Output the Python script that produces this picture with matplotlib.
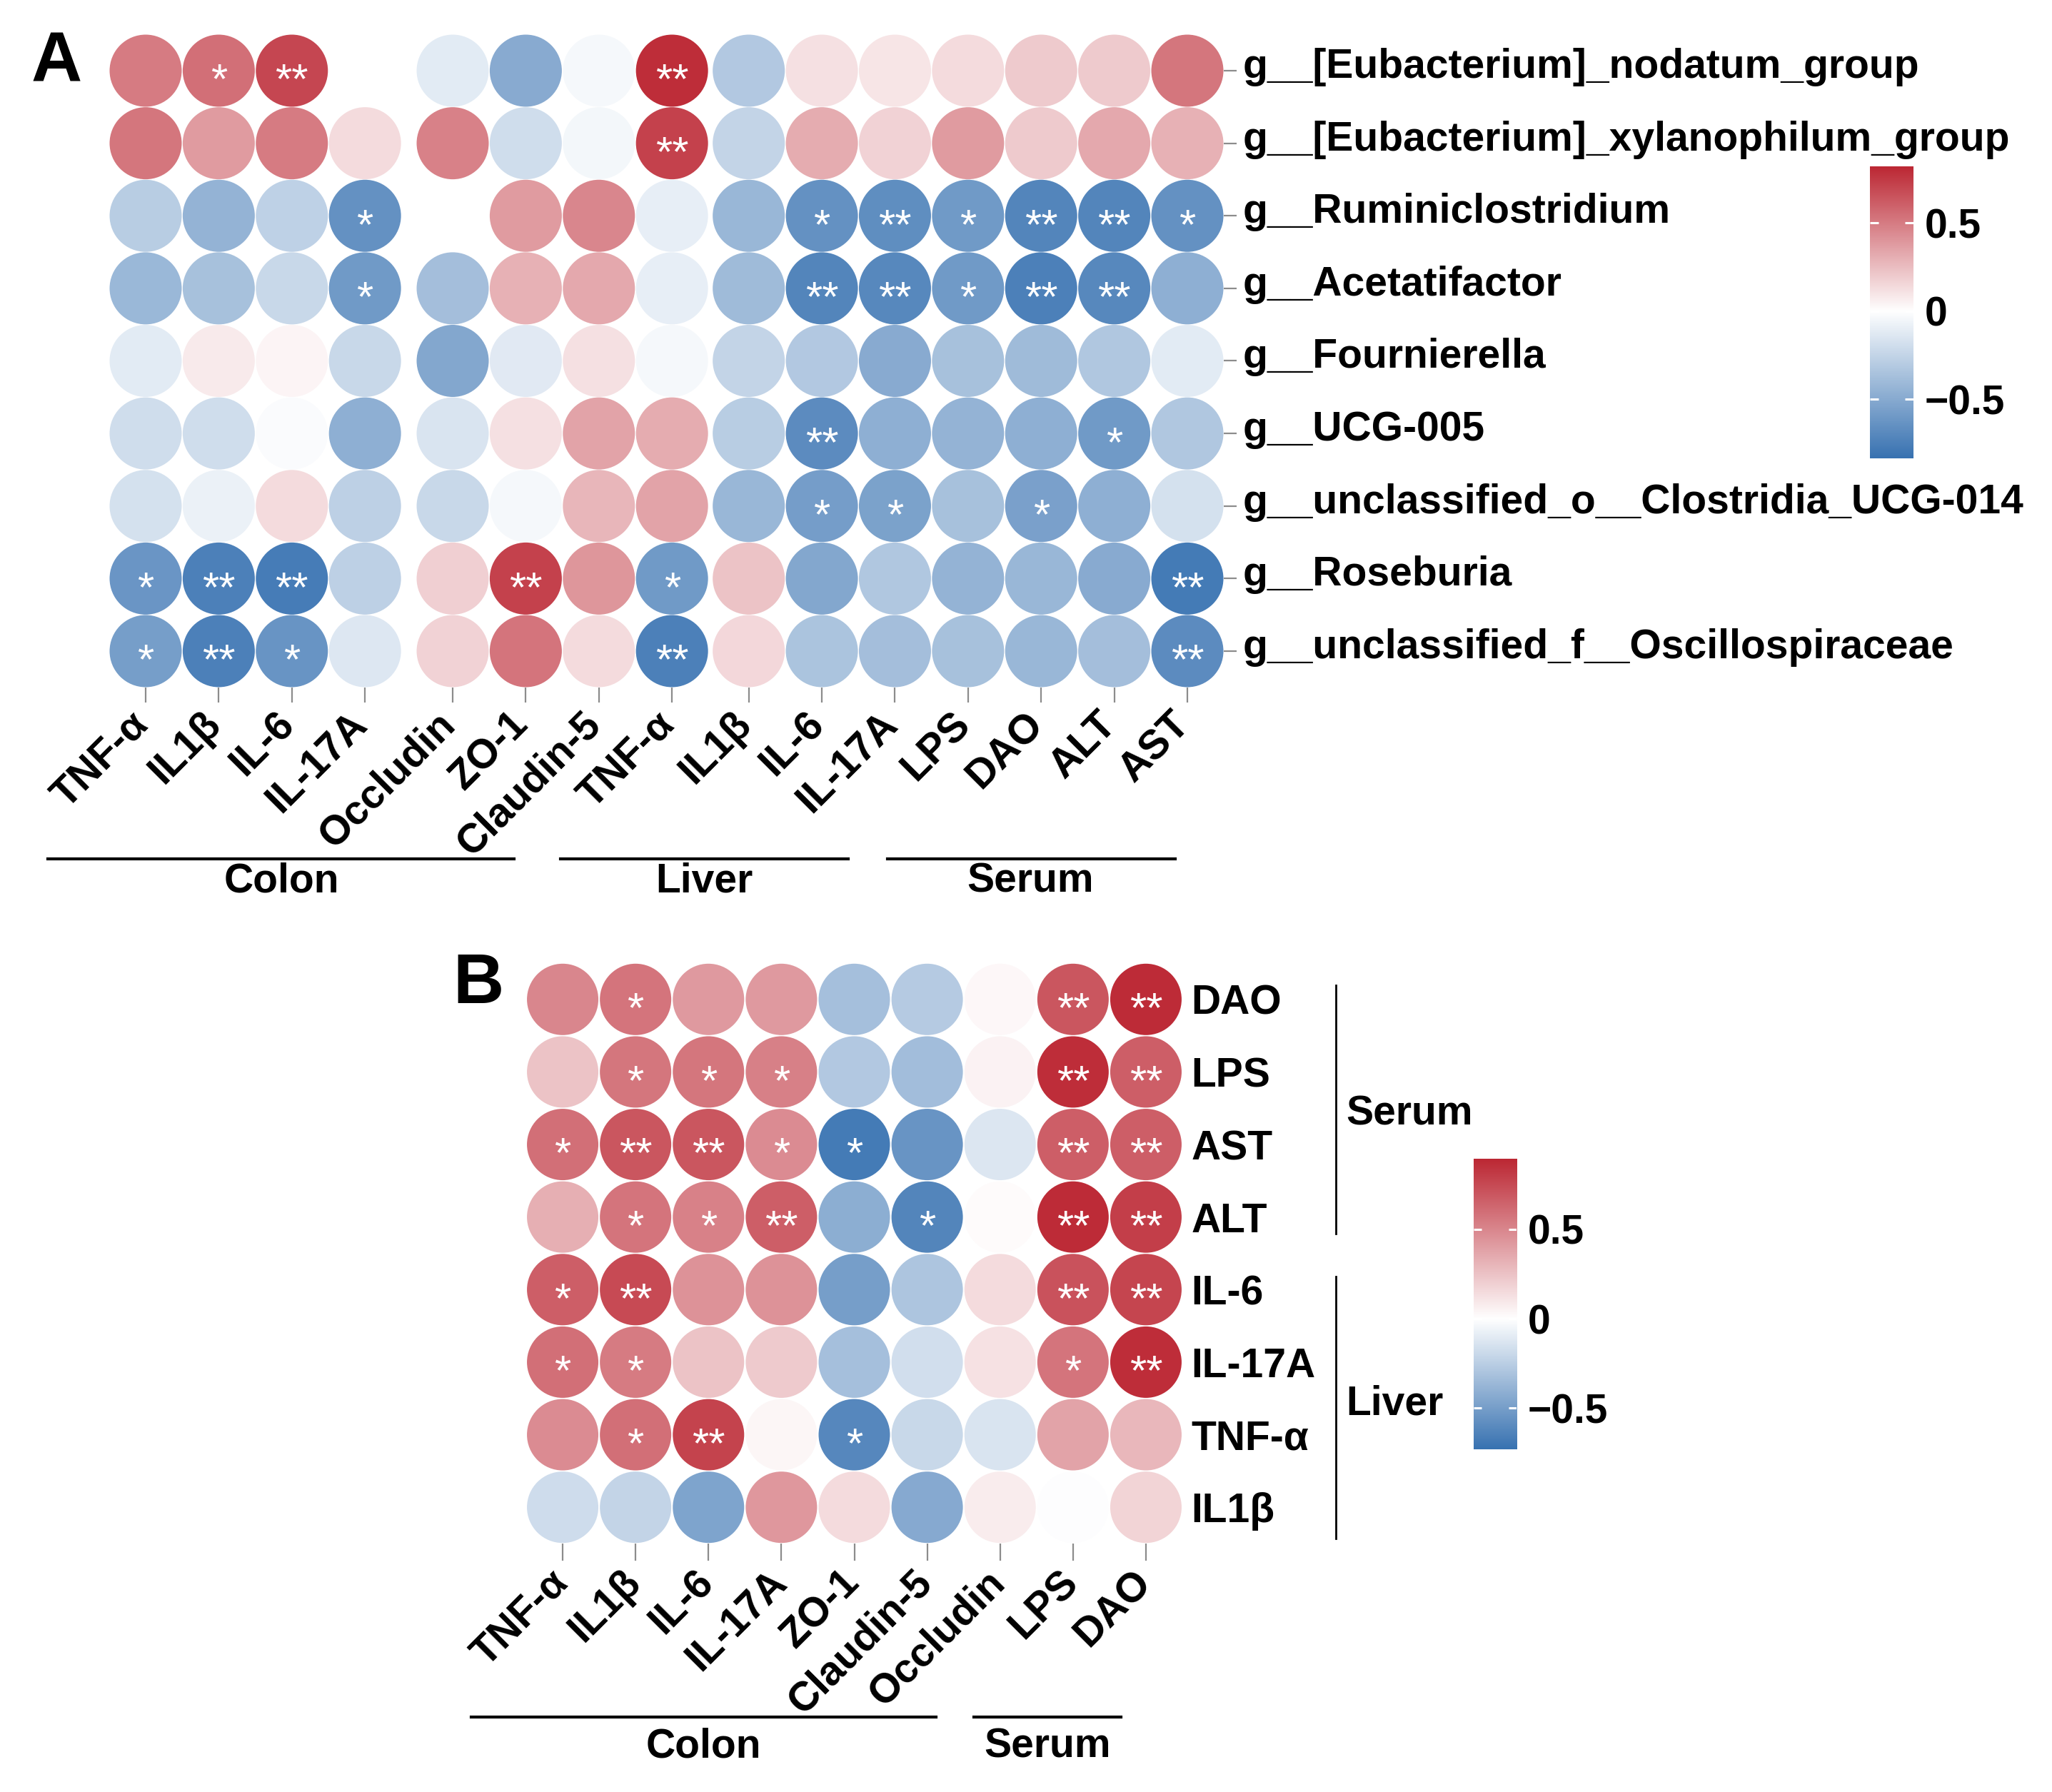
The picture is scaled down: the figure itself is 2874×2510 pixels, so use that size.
import numpy as np
import matplotlib
matplotlib.use("Agg")
import matplotlib.pyplot as plt
from matplotlib.colors import LinearSegmentedColormap, TwoSlopeNorm
from matplotlib.lines import Line2D
from matplotlib.transforms import blended_transform_factory, ScaledTranslation

plt.rcParams['font.family'] = ['Liberation Sans', 'DejaVu Sans']
plt.rcParams['font.weight'] = 'bold'

# ---------------- data ----------------
a_cols = ["TNF-α", "IL1β", "IL-6", "IL-17A", "Occludin", "ZO-1", "Claudin-5",
          "TNF-α", "IL1β", "IL-6", "IL-17A", "LPS", "DAO", "ALT", "AST"]
a_rows = ["g__[Eubacterium]_nodatum_group",
          "g__[Eubacterium]_xylanophilum_group",
          "g__Ruminiclostridium",
          "g__Acetatifactor",
          "g__Fournierella",
          "g__UCG-005",
          "g__unclassified_o__Clostridia_UCG-014",
          "g__Roseburia",
          "g__unclassified_f__Oscillospiraceae"]
a_vals = np.array([
    [0.50, 0.55, 0.70, np.nan, -0.12, -0.50, -0.04, 0.80, -0.32, 0.12, 0.10, 0.14, 0.20, 0.20, 0.52],
    [0.52, 0.38, 0.50, 0.14, 0.48, -0.20, -0.05, 0.72, -0.25, 0.32, 0.17, 0.38, 0.20, 0.33, 0.30],
    [-0.30, -0.45, -0.27, -0.65, np.nan, 0.38, 0.46, -0.10, -0.43, -0.65, -0.67, -0.60, -0.72, -0.72, -0.65],
    [-0.42, -0.37, -0.23, -0.60, -0.38, 0.30, 0.33, -0.10, -0.40, -0.72, -0.70, -0.60, -0.75, -0.70, -0.47],
    [-0.12, 0.08, 0.04, -0.23, -0.52, -0.13, 0.12, -0.04, -0.25, -0.32, -0.50, -0.37, -0.40, -0.33, -0.12],
    [-0.20, -0.20, -0.02, -0.47, -0.16, 0.12, 0.35, 0.32, -0.30, -0.68, -0.47, -0.45, -0.47, -0.60, -0.33],
    [-0.18, -0.08, 0.14, -0.28, -0.23, -0.04, 0.28, 0.35, -0.43, -0.58, -0.55, -0.37, -0.56, -0.47, -0.18],
    [-0.62, -0.75, -0.77, -0.28, 0.18, 0.72, 0.40, -0.60, 0.23, -0.52, -0.33, -0.45, -0.43, -0.50, -0.78],
    [-0.57, -0.75, -0.63, -0.14, 0.17, 0.53, 0.14, -0.75, 0.15, -0.35, -0.38, -0.37, -0.43, -0.38, -0.68],
])
a_sig = [
    ["", "*", "**", "", "", "", "", "**", "", "", "", "", "", "", ""],
    ["", "", "", "", "", "", "", "**", "", "", "", "", "", "", ""],
    ["", "", "", "*", "", "", "", "", "", "*", "**", "*", "**", "**", "*"],
    ["", "", "", "*", "", "", "", "", "", "**", "**", "*", "**", "**", ""],
    ["", "", "", "", "", "", "", "", "", "", "", "", "", "", ""],
    ["", "", "", "", "", "", "", "", "", "**", "", "", "", "*", ""],
    ["", "", "", "", "", "", "", "", "", "*", "*", "", "*", "", ""],
    ["*", "**", "**", "", "", "**", "", "*", "", "", "", "", "", "", "**"],
    ["*", "**", "*", "", "", "", "", "**", "", "", "", "", "", "", "**"],
]
a_groups = ["Colon", "Liver", "Serum"]
a_limits = (-0.835, 0.82)

b_cols = ["TNF-α", "IL1β", "IL-6", "IL-17A", "ZO-1", "Claudin-5", "Occludin", "LPS", "DAO"]
b_rows = ["DAO", "LPS", "AST", "ALT", "IL-6", "IL-17A", "TNF-α", "IL1β"]
b_vals = np.array([
    [0.50, 0.58, 0.42, 0.42, -0.33, -0.27, 0.03, 0.70, 0.88],
    [0.25, 0.57, 0.57, 0.53, -0.28, -0.34, 0.05, 0.87, 0.67],
    [0.60, 0.70, 0.70, 0.48, -0.68, -0.55, -0.13, 0.67, 0.67],
    [0.33, 0.58, 0.52, 0.67, -0.42, -0.63, 0.02, 0.88, 0.80],
    [0.67, 0.75, 0.45, 0.45, -0.50, -0.30, 0.15, 0.72, 0.77],
    [0.60, 0.55, 0.25, 0.22, -0.33, -0.17, 0.12, 0.58, 0.87],
    [0.48, 0.60, 0.78, 0.04, -0.62, -0.20, -0.14, 0.38, 0.30],
    [-0.18, -0.22, -0.47, 0.43, 0.15, -0.44, 0.08, -0.01, 0.18],
])
b_sig = [
    ["", "*", "", "", "", "", "", "**", "**"],
    ["", "*", "*", "*", "", "", "", "**", "**"],
    ["*", "**", "**", "*", "*", "", "", "**", "**"],
    ["", "*", "*", "**", "", "*", "", "**", "**"],
    ["*", "**", "", "", "", "", "", "**", "**"],
    ["*", "*", "", "", "", "", "", "*", "**"],
    ["", "*", "**", "", "*", "", "", "", ""],
    ["", "", "", "", "", "", "", "", ""],
]
b_xgroups = ["Colon", "Serum"]
b_ygroups = ["Serum", "Liver"]
b_limits = (-0.73, 0.895)

# ---------------- style ----------------
W, H = 2874, 2510
DPI = 100
FS = 41
cmap = LinearSegmentedColormap.from_list("bwr2", ["#3872B1", "#FFFFFF", "#BC2834"])
cmap.set_bad((0, 0, 0, 0))
TICKC = "#8c8c8c"

fig = plt.figure(figsize=(W / DPI, H / DPI), dpi=DPI)
fig.patch.set_facecolor("white")


def rect(l, t, r, b):
    return [l / W, 1 - b / H, (r - l) / W, (b - t) / H]


def fx(x):
    return x / W


def fy(y):
    return 1 - y / H


def shift(labels, dx_px, dy_px):
    off = ScaledTranslation(dx_px / DPI, dy_px / DPI, fig.dpi_scale_trans)
    for lab in labels:
        lab.set_transform(lab.get_transform() + off)


def dot_matrix(ax, vals, sig, xpos, norm, diam_px):
    nr, nc = vals.shape
    X, Y = np.meshgrid(xpos, np.arange(nr))
    m = ~np.isnan(vals)
    s = (diam_px * 72 / DPI) ** 2
    ax.scatter(X[m], Y[m], c=vals[m], cmap=cmap, norm=norm, s=s, linewidths=0, zorder=2)
    for i in range(nr):
        for j in range(nc):
            if sig[i][j]:
                ax.text(xpos[j], i + 0.31, sig[i][j], color="white", fontsize=43,
                        fontweight="normal", ha="center", va="baseline", zorder=3)
    for sp in ax.spines.values():
        sp.set_visible(False)
    ax.set_facecolor("none")


def colorbar(l, t, r, b, limits, norm):
    cax = fig.add_axes(rect(l, t, r, b))
    vmin, vmax = limits
    grad = np.linspace(vmin, vmax, 800)[:, None]
    cax.imshow(grad, extent=[0, 1, vmin, vmax], origin="lower", aspect="auto",
               cmap=cmap, norm=norm, interpolation="bilinear")
    cax.set_xlim(0, 1)
    cax.set_ylim(vmin, vmax)
    cax.set_xticks([])
    cax.yaxis.tick_right()
    ticks = [-0.5, 0, 0.5]
    cax.set_yticks(ticks)
    cax.set_yticklabels(["\u22120.5", "0", "0.5"])
    cax.tick_params(axis="y", length=0, pad=11, labelsize=FS)
    for sp in cax.spines.values():
        sp.set_visible(False)
    tr = blended_transform_factory(cax.transAxes, cax.transData)
    for tv in ticks:
        cax.plot([0, 0.19], [tv, tv], color="white", lw=2.2, transform=tr, solid_capstyle="butt")
        cax.plot([0.81, 1], [tv, tv], color="white", lw=2.2, transform=tr, solid_capstyle="butt")


# ---------------- panel A ----------------
normA = TwoSlopeNorm(vcenter=0, vmin=a_limits[0], vmax=a_limits[1])
idx = np.arange(len(a_cols))
xA = idx + np.where(idx >= 4, 0.2, 0.0) + np.where(idx >= 8, 0.05, 0.0)
axA = fig.add_axes(rect(152.8, 48.2, 1714.2, 962.8))
dot_matrix(axA, a_vals, a_sig, xA, normA, 101)
axA.set_xlim(-0.5, xA[-1] + 0.5)
axA.set_ylim(len(a_rows) - 0.5, -0.5)
axA.set_xticks(xA)
axA.set_xticklabels(a_cols, rotation=45, ha="right", va="top", fontsize=FS)
axA.set_yticks(np.arange(len(a_rows)))
axA.set_yticklabels(a_rows, fontsize=FS)
axA.yaxis.tick_right()
axA.tick_params(axis="x", length=15, width=1.6, color=TICKC, pad=4)
axA.tick_params(axis="y", length=13, width=1.6, color=TICKC, pad=6)
shift(axA.get_xticklabels(), 14, 2)
shift(axA.get_yticklabels(), 0, 11)

fig.text(fx(44), fy(114), "A", fontsize=71, fontweight="bold", va="baseline", ha="left")

for (x0, x1, xc), name in zip([(67, 720, 394), (785, 1188, 986), (1243, 1646, 1443)], a_groups):
    fig.add_artist(Line2D([fx(x0), fx(x1)], [fy(1203), fy(1203)], color="black", lw=3,
                          transform=fig.transFigure))
    fig.text(fx(xc), fy(1234), name, fontsize=FS, ha="center", va="center")

colorbar(2619, 233, 2680, 642, a_limits, normA)

# ---------------- panel B ----------------
normB = TwoSlopeNorm(vcenter=0, vmin=b_limits[0], vmax=b_limits[1])
xB = np.arange(len(b_cols), dtype=float)
axB = fig.add_axes(rect(737, 1349, 1656, 2162))
dot_matrix(axB, b_vals, b_sig, xB, normB, 100)
axB.set_xlim(-0.5, xB[-1] + 0.5)
axB.set_ylim(len(b_rows) - 0.5, -0.5)
axB.set_xticks(xB)
axB.set_xticklabels(b_cols, rotation=45, ha="right", va="top", fontsize=FS)
axB.set_yticks(np.arange(len(b_rows)))
axB.set_yticklabels(b_rows, fontsize=FS)
axB.yaxis.tick_right()
axB.tick_params(axis="x", length=17, width=1.6, color=TICKC, pad=4)
axB.tick_params(axis="y", length=0, pad=9)
shift(axB.get_xticklabels(), 18, 2)

fig.text(fx(634), fy(1405), "B", fontsize=71, fontweight="bold", va="baseline", ha="left")

for (x0, x1, xc), name in zip([(660, 1311, 985), (1364, 1570, 1467)], b_xgroups):
    fig.add_artist(Line2D([fx(x0), fx(x1)], [fy(2405), fy(2405)], color="black", lw=3,
                          transform=fig.transFigure))
    fig.text(fx(xc), fy(2446), name, fontsize=FS, ha="center", va="center")

for (y0, y1, yc), name in zip([(1380, 1728, 1561), (1788, 2155, 1966)], b_ygroups):
    fig.add_artist(Line2D([fx(1871), fx(1871)], [fy(y0), fy(y1)], color="black", lw=2,
                          transform=fig.transFigure))
    fig.text(fx(1885), fy(yc), name, fontsize=FS, ha="left", va="center")

colorbar(2064, 1623, 2124, 2030, b_limits, normB)

fig.savefig("out.png", dpi=DPI, facecolor="white")
